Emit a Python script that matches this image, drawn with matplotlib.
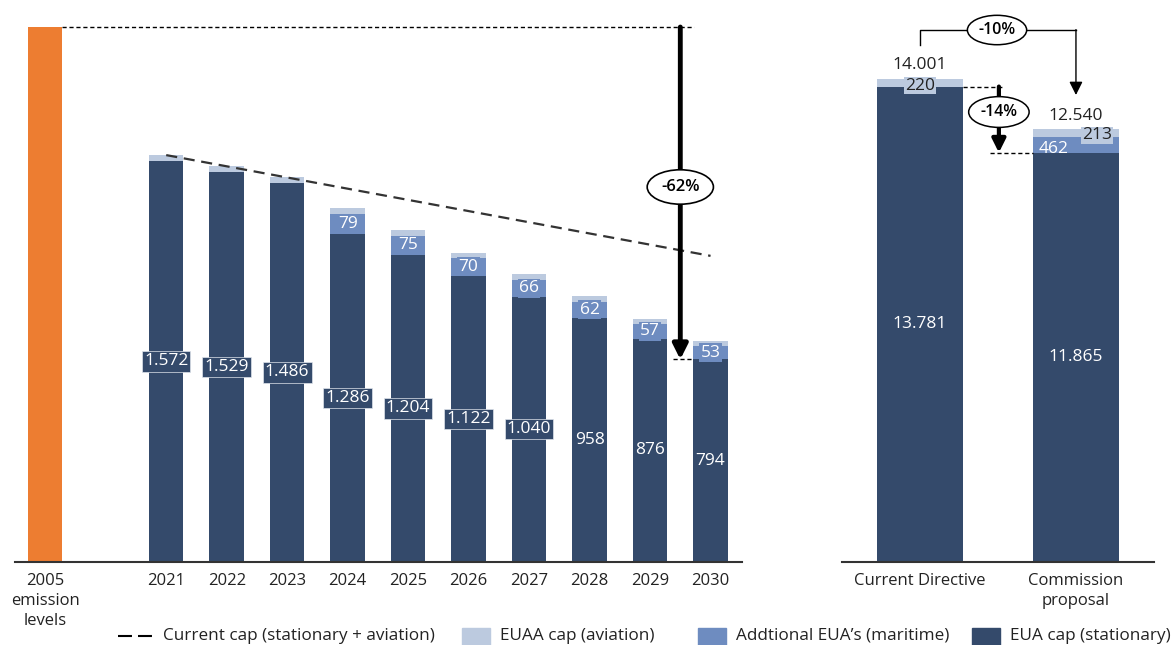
import matplotlib.pyplot as plt
from matplotlib.lines import Line2D
from matplotlib.patches import Rectangle

plt.rcParams['font.family'] = ['Open Sans', 'DejaVu Sans']

# yearly caps (Mt)
years = ['2021', '2022', '2023', '2024', '2025', '2026', '2027', '2028', '2029', '2030']
eua_stationary = [1572, 1529, 1486, 1286, 1204, 1122, 1040, 958, 876, 794]
eua_maritime = [0, 0, 0, 79, 75, 70, 66, 62, 57, 53]
euaa_aviation = [22, 22, 22, 21, 21, 21, 21, 21, 21, 21]
emissions_2005 = 2097
current_cap_2021 = 1595
current_cap_2030 = 1200

# totals 2021-2030
scenarios = ['Current Directive', 'Commission\nproposal']
tot_stationary = [13781, 11865]
tot_maritime = [0, 462]
tot_aviation = [220, 213]

c_orange = '#ED7D31'
c_dark = '#344A6B'
c_mid = '#6E8CC0'
c_light = '#BCCADF'
c_txt = '#222222'


def fmt(v):
    return f'{v:,}'.replace(',', '.')


fig = plt.figure(figsize=(11.72, 6.45), dpi=100)
axL = fig.add_axes([0.0128, 0.1287, 0.6203, 0.8713])
axR = fig.add_axes([0.7184, 0.1287, 0.2662, 0.8713])

w = 0.57
pos = list(range(2, 2 + len(years)))

# --- left: 2005 + yearly stack
axL.bar(0, emissions_2005, width=w, color=c_orange)
axL.bar(pos, eua_stationary, width=w, color=c_dark)
axL.bar(pos, eua_maritime, width=w, bottom=eua_stationary, color=c_mid)
top_mar = [a + b for a, b in zip(eua_stationary, eua_maritime)]
axL.bar(pos, euaa_aviation, width=w, bottom=top_mar, color=c_light)

for x, s, m in zip(pos, eua_stationary, eua_maritime):
    if s >= 1000:
        axL.text(x, s / 2, fmt(s), ha='center', va='center', color='white', fontsize=12.5,
                 bbox=dict(boxstyle='square,pad=0.12', fc=c_dark, ec='#dfe4ec', lw=0.5))
    else:
        axL.text(x, s / 2, fmt(s), ha='center', va='center', color='white', fontsize=12.5)
    if m:
        axL.text(x, s + m / 2, fmt(m), ha='center', va='center', color='white', fontsize=12.5,
                 bbox=dict(boxstyle='square,pad=0.08', fc=c_mid, ec='none'))

# current cap trend
axL.plot([pos[0], pos[-1]], [current_cap_2021, current_cap_2030], color='#333333',
         lw=1.6, ls=(0, (5, 3)))

# -62% reduction marker
xr = 10.5
axL.plot([0 + w / 2, 10.72], [emissions_2005, emissions_2005], color='black', lw=1, ls=(0, (3, 2)))
axL.plot([10.38, 11 - w / 2], [eua_stationary[-1]] * 2, color='black', lw=1, ls=(0, (3, 2)))
axL.annotate('', xy=(xr, eua_stationary[-1]), xytext=(xr, emissions_2005),
             arrowprops=dict(arrowstyle='-|>', lw=3.5, color='black', mutation_scale=22,
                             shrinkA=0, shrinkB=0))
axL.text(xr, 1470, '-62%', ha='center', va='center', fontsize=12, fontweight='semibold',
         bbox=dict(boxstyle='ellipse,pad=0.25', fc='white', ec='black', lw=1.2))

axL.set_xlim(-0.5, 11.52)
axL.set_ylim(0, 2203)
axL.set_xticks([0] + pos, ['2005\nemission\nlevels'] + years)

# --- right: totals
rpos = [0, 1]
rw = 0.55
axR.bar(rpos, tot_stationary, width=rw, color=c_dark)
axR.bar(rpos, tot_maritime, width=rw, bottom=tot_stationary, color=c_mid)
rtop = [a + b for a, b in zip(tot_stationary, tot_maritime)]
axR.bar(rpos, tot_aviation, width=rw, bottom=rtop, color=c_light)
totals = [a + b for a, b in zip(rtop, tot_aviation)]

for x, s in zip(rpos, tot_stationary):
    axR.text(x, s / 2, fmt(s), ha='center', va='center', color='white', fontsize=12.5)
for x, t in zip(rpos, totals):
    axR.text(x, t + 170, fmt(t), ha='center', va='bottom', color=c_txt, fontsize=12.5)

axR.text(0, tot_stationary[0] + tot_aviation[0] / 2 - 80, fmt(tot_aviation[0]), ha='center',
         va='center', color=c_txt, fontsize=12.5,
         bbox=dict(boxstyle='square,pad=0.05', fc=c_light, ec='none'))
axR.text(1.135, rtop[1] + tot_aviation[1] / 2 - 70, fmt(tot_aviation[1]), ha='center',
         va='center', color=c_txt, fontsize=12.5,
         bbox=dict(boxstyle='square,pad=0.05', fc=c_light, ec='none'))
axR.text(0.86, tot_stationary[1] + tot_maritime[1] / 2 - 120, fmt(tot_maritime[1]),
         ha='center', va='center', color='white', fontsize=12.5)

# -10% bracket between totals
yb = 15420
axR.plot([0, 0, 1], [14985, yb, yb], color='black', lw=1)
axR.annotate('', xy=(1, 13536), xytext=(1, yb + 12),
             arrowprops=dict(arrowstyle='-|>', lw=1, color='black', mutation_scale=20,
                             shrinkA=0, shrinkB=0))
axR.text(0.494, yb, '-10%', ha='center', va='center', fontsize=11.5, fontweight='semibold',
         bbox=dict(boxstyle='ellipse,pad=0.15', fc='white', ec='black', lw=1.1))

# -14% on stationary cap
xa = 0.506
axR.plot([rw / 2, xa + 0.02], [tot_stationary[0]] * 2, color='black', lw=1, ls=(0, (3, 2)))
axR.plot([0.449, 1 - rw / 2], [tot_stationary[1]] * 2, color='black', lw=1, ls=(0, (3, 2)))
axR.annotate('', xy=(xa, tot_stationary[1]), xytext=(xa, tot_stationary[0]),
             arrowprops=dict(arrowstyle='-|>', lw=3, color='black', mutation_scale=20,
                             shrinkA=0, shrinkB=0))
axR.text(xa, 13043, '-14%', ha='center', va='center', fontsize=11.5, fontweight='semibold',
         bbox=dict(boxstyle='ellipse,pad=0.18', fc='white', ec='black', lw=1.1))

axR.set_xlim(-0.5, 1.5)
axR.set_ylim(0, 16290)
axR.set_xticks(rpos, scenarios)

for ax in (axL, axR):
    for s in ('top', 'right', 'left'):
        ax.spines[s].set_visible(False)
    ax.spines['bottom'].set_color('#333333')
    ax.spines['bottom'].set_linewidth(1.5)
    ax.set_yticks([])
    ax.tick_params(axis='x', length=0, pad=8, labelsize=12, labelcolor=c_txt)
    for lbl in ax.get_xticklabels():
        lbl.set_linespacing(1.35)

# legend along the bottom
W, H = 1172, 645
yl = (H - 636) / H
fig.add_artist(Line2D([118 / W, 152 / W], [yl, yl], color='black', lw=1.5, ls=(0, (6.7, 2.9))))
fig.text(163 / W, yl, 'Current cap (stationary + aviation)', va='center', fontsize=12.3, color=c_txt)
for x0, col, lab in [(462, c_light, 'EUAA cap (aviation)'),
                     (698, c_mid, 'Addtional EUA\u2019s (maritime)'),
                     (972, c_dark, 'EUA cap (stationary)')]:
    fig.add_artist(Rectangle((x0 / W, 0), 28 / W, 17 / H, color=col, transform=fig.transFigure))
    fig.text((x0 + 38) / W, yl, lab, va='center', fontsize=12.3, color=c_txt)

fig.savefig('out.png', dpi=100)
